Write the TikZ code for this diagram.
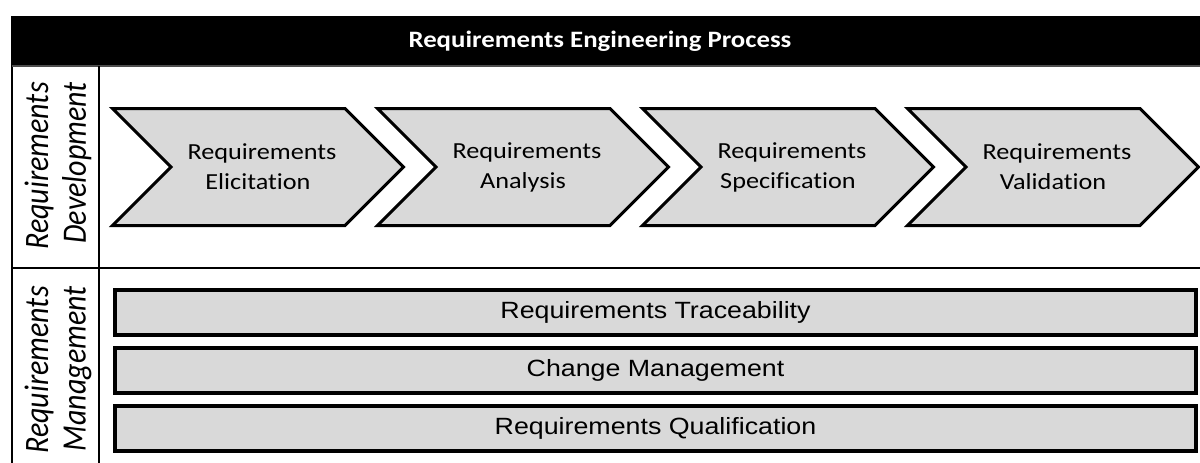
\documentclass[tikz,border=0pt]{standalone}
\usepackage{fontspec}
\setmainfont{Carlito}[FakeStretch=1.14, Ligatures=NoCommon]
\newfontfamily\barfont{Liberation Sans}[FakeStretch=1.14, Ligatures=NoCommon]
\newfontfamily\lanefont{Carlito}
\usetikzlibrary{shapes.symbols}

\begin{document}
\begin{tikzpicture}[x=1pt, y=-1pt,
  stage/.style={signal, signal from=west, signal to=east, signal pointer angle=90,
    draw=black, line width=3pt, fill=black!15, inner sep=0pt,
    minimum width=291pt, minimum height=117pt,
    align=center, font=\fontsize{23}{30}\selectfont},
  task/.style={draw=black, line width=3.5pt, fill=black!15, inner sep=0pt,
    minimum width=1081pt, minimum height=45pt,
    font=\barfont\fontsize{23.5}{28}\selectfont},
  lane/.style={xscale=1.14, rotate=90, align=right,
    font=\lanefont\itshape\fontsize{30}{33}\selectfont}]
\useasboundingbox (0,0) rectangle (1200,463);

% header bar
\fill[black] (11,16) rectangle (1210,66);
\node[text=white, font=\bfseries\fontsize{23.5}{28}\selectfont] (title) at (600,41)
  {Requirements Engineering Process};

% lanes
\draw[line width=2pt] (12,16) -- (12,470);
\draw[line width=2pt, black!70] (12,66) -- (1210,66);
\draw[line width=2pt] (99,66) -- (99,470);
\draw[line width=2pt] (12,268) -- (1210,268);

\node[lane] (dev) at (58,166) {Requirements\\Development};
\node[lane] (mgmt) at (58,370) {Requirements\\Management};

% development steps
\foreach \name/\txt [count=\i from 0] in
  {eli/{Requirements\\Elicitation}, ana/{Requirements\\Analysis},
   spec/{Requirements\\Specification}, val/{Requirements\\Validation}}
  \node[stage] (\name) at ({112+265*\i+146},167) {\hspace*{8pt}\txt};

% management activities
\node[task] (trace) at (655.5,312.5) {Requirements Traceability};
\node[task] (change) at (655.5,370.5) {Change Management};
\node[task] (qual) at (655.5,428.5) {Requirements Qualification};
\end{tikzpicture}
\end{document}
